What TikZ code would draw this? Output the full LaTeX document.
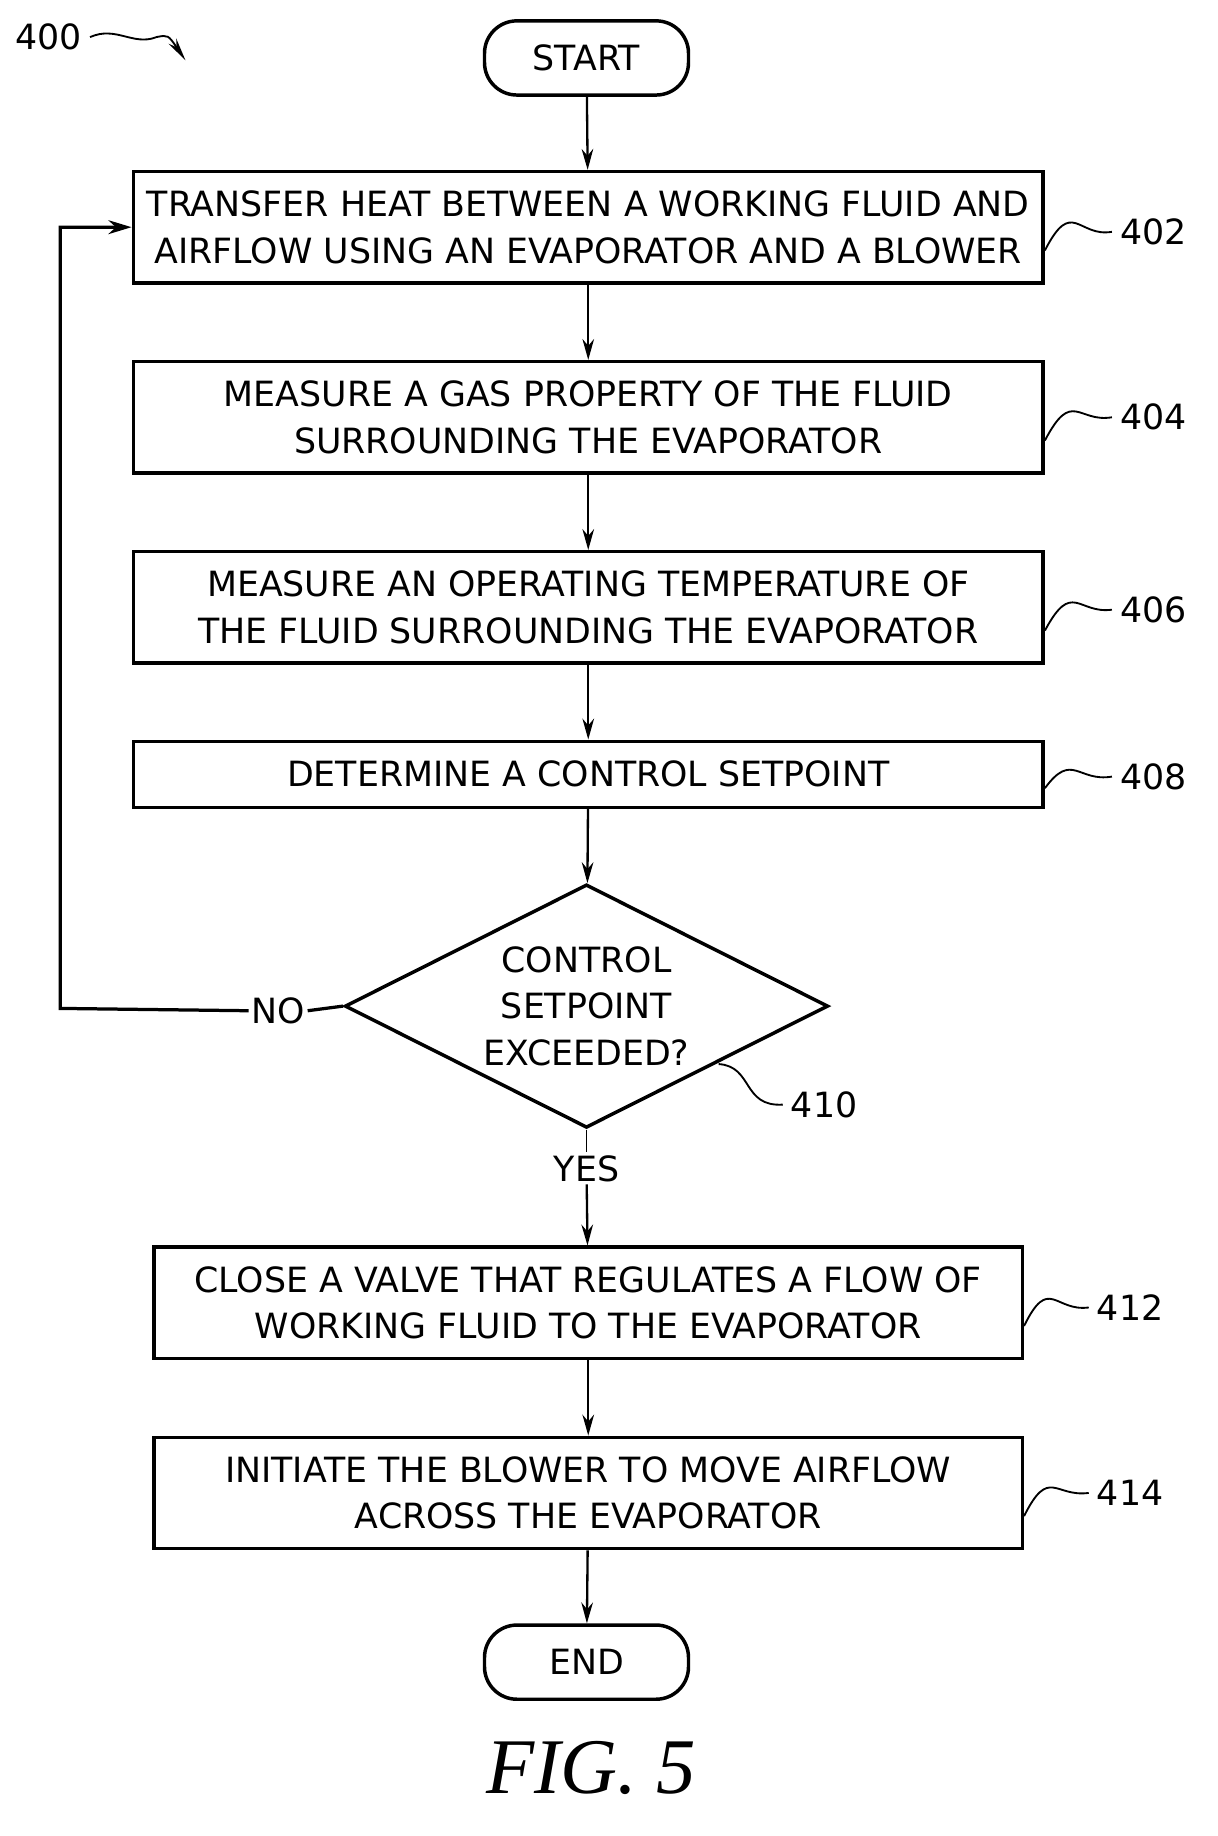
\documentclass[tikz,border=0pt]{standalone}
\usepackage{fontspec}
\setmainfont{DejaVu Sans}
\newfontfamily\figfont{Liberation Serif}
\usetikzlibrary{shapes.geometric,arrows.meta}
\begin{document}
\begin{tikzpicture}[x=0.5pt,y=-0.5pt,
  box/.style={draw,line width=1.5pt,minimum width=392.5pt,align=center,font=\fontsize{15}{20}\selectfont,inner sep=0pt},
  term/.style={draw,line width=1.5pt,rounded corners=14pt,minimum width=88pt,minimum height=32pt,font=\fontsize{15}{16}\selectfont},
  arr/.style={line width=1pt,-{Stealth[length=9pt,width=5pt]}},
  lbl/.style={font=\fontsize{15}{16}\selectfont},
  sq/.style={line width=0.8pt}]
\useasboundingbox (0,0) rectangle (1050,1584);
\node[term] (start) at (506,50) {START};
\node[box,minimum height=48pt] (b402) at (507.5,196) {TRANSFER HEAT BETWEEN A WORKING FLUID AND\\AIRFLOW USING AN EVAPORATOR AND A BLOWER};
\node[box,minimum height=48pt] (b404) at (507.5,360) {MEASURE A GAS PROPERTY OF THE FLUID\\SURROUNDING THE EVAPORATOR};
\node[box,minimum height=48pt] (b406) at (507.5,524) {MEASURE AN OPERATING TEMPERATURE OF\\THE FLUID SURROUNDING THE EVAPORATOR};
\node[box,minimum height=28.5pt] (b408) at (507.5,668) {DETERMINE A CONTROL SETPOINT};
\node[draw,line width=1.5pt,diamond,shape aspect=2,minimum width=208.5pt,minimum height=105pt,inner sep=0pt,align=center,font=\fontsize{15}{20}\selectfont] (d410) at (506,868) {CONTROL\\SETPOINT\\EXCEEDED?};
\node[box,minimum width=374.5pt,minimum height=48pt] (b412) at (507.5,1124) {CLOSE A VALVE THAT REGULATES A FLOW OF\\WORKING FLUID TO THE EVAPORATOR};
\node[box,minimum width=374.5pt,minimum height=48pt] (b414) at (507.5,1288) {INITIATE THE BLOWER TO MOVE AIRFLOW\\ACROSS THE EVAPORATOR};
\node[term] (end) at (506,1434) {END};
\node[font=\figfont\itshape\fontsize{34}{36}\selectfont] (fig) at (510,1525) {FIG. 5};

\draw[arr] (start) -- (b402);
\draw[arr] (b402) -- (b404);
\draw[arr] (b404) -- (b406);
\draw[arr] (b406) -- (b408);
\draw[arr] (b408) -- (d410);
\node[lbl,fill=white,inner sep=1pt] (yes) at (506,1008) {YES};
\draw (d410.south) -- (yes.north);
\draw[arr] (yes) -- (b412);
\draw[arr] (b412) -- (b414);
\draw[arr] (b414) -- (end);
\node[lbl,fill=white,inner sep=1pt] (no) at (240,872) {NO};
\coordinate (c1) at (52,870);
\coordinate (c2) at (52,196);
\draw[line width=1.4pt] (d410.west) -- (no.east);
\draw[line width=1.4pt,-{Stealth[length=10pt,width=6pt]}] (no.west) -- (c1) -- (c2) -- (b402.west);

\node[lbl] (l400) at (42,32) {400};
\draw[sq,-{Stealth[length=10pt,width=4pt]}] (l400.east) .. controls (100,22) and (115,40) .. (135,32) .. controls (145,30) .. (160,52);
\foreach \n/\y/\t in {l402/200/402,l404/360/404,l406/526/406,l408/670/408}{
  \node[lbl] (\n) at (995,\y) {\t};
}
\foreach \n/\y/\t in {l412/1128/412,l414/1288/414}{
  \node[lbl] (\n) at (975,\y) {\t};
}
\node[lbl] (l410) at (711,953) {410};
\draw[sq] (b402.east) ++(0,-10pt) .. controls (925,170) and (930,205) .. (l402.west);
\draw[sq] (b404.east) ++(0,-10pt) .. controls (925,335) and (930,365) .. (l404.west);
\draw[sq] (b406.east) ++(0,-10pt) .. controls (925,500) and (930,530) .. (l406.west);
\draw[sq] (b408.east) ++(0,-6pt) .. controls (925,648) and (930,675) .. (l408.west);
\draw[sq] (b412.east) ++(0,-10pt) .. controls (905,1100) and (910,1132) .. (l412.west);
\draw[sq] (b414.east) ++(0,-10pt) .. controls (905,1265) and (910,1292) .. (l414.west);
\draw[sq] (620,918) .. controls (650,920) and (640,955) .. (l410.west);
\end{tikzpicture}
\end{document}
